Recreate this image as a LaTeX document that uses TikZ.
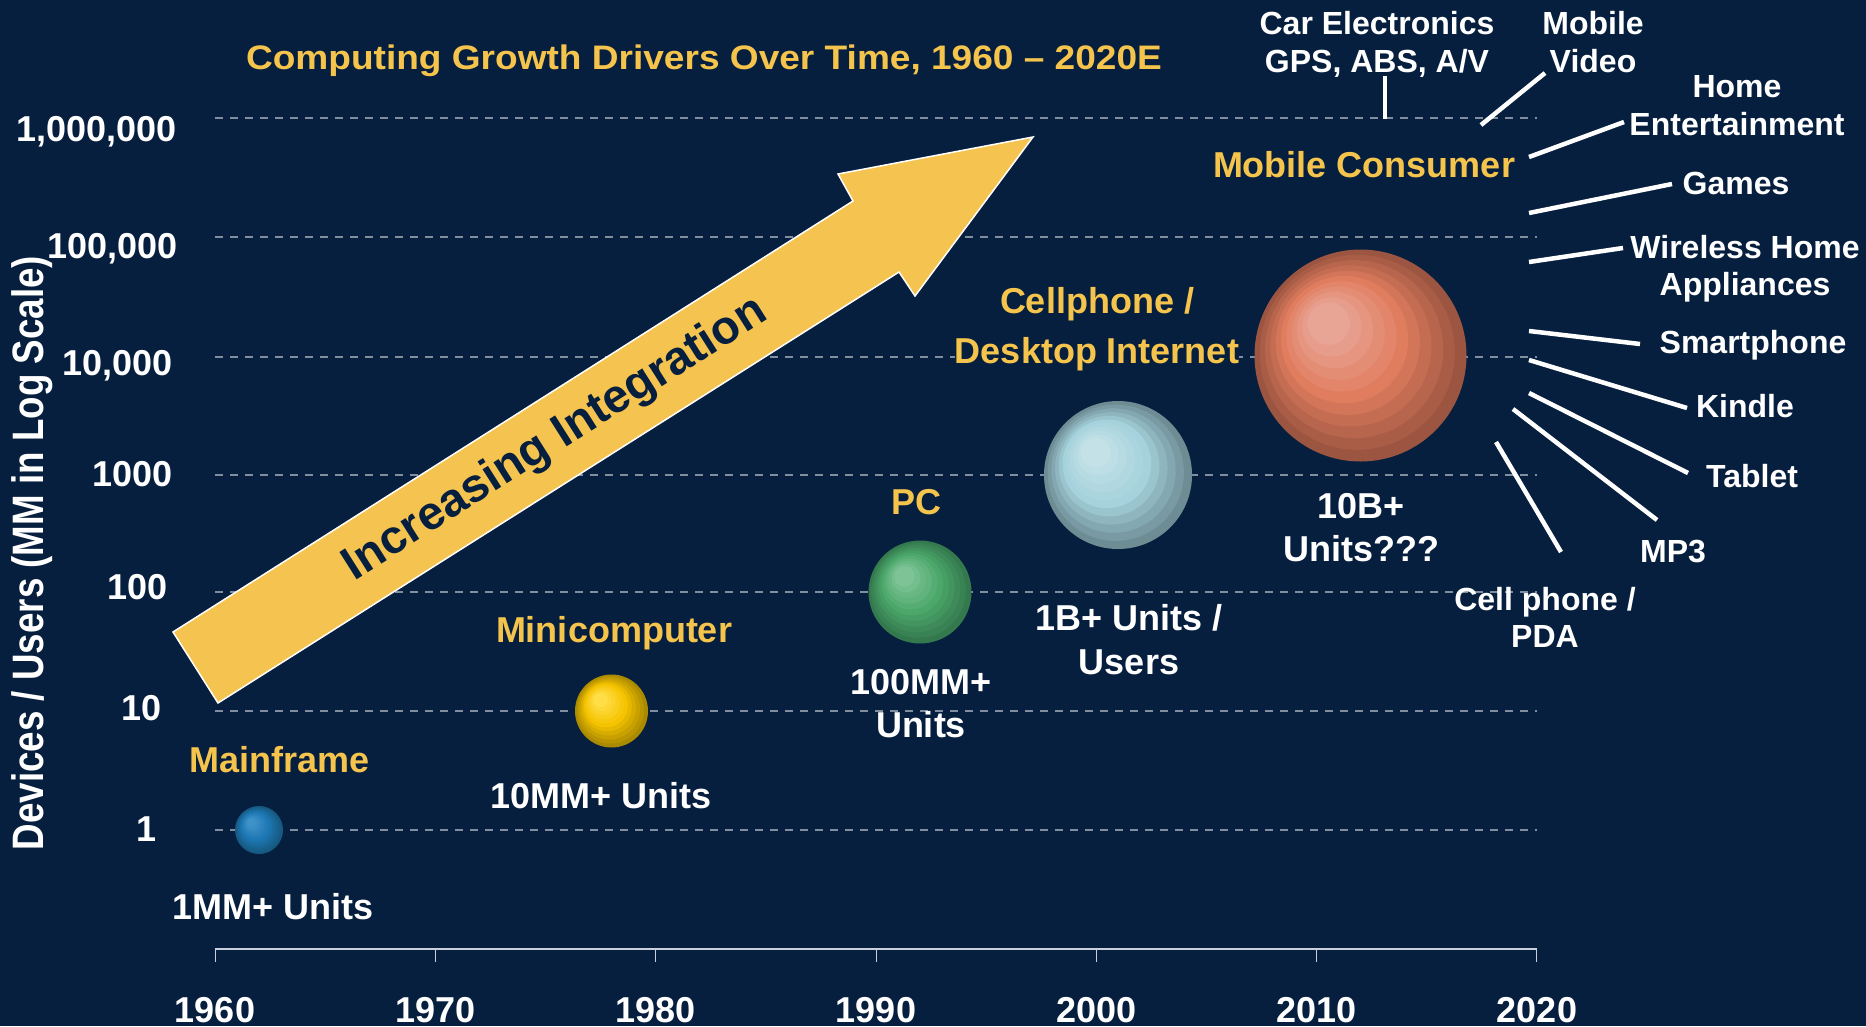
\documentclass[tikz,border=0pt]{standalone}
\usepackage{fontspec}
\setmainfont{Liberation Sans}
\newfontfamily\titlefont[FakeStretch=1.09]{Liberation Sans}
\newfontfamily\narrowfont[FakeStretch=0.835]{Liberation Sans}
\definecolor{navy}{RGB}{7,31,62}
\definecolor{eragold}{RGB}{245,196,76}
\definecolor{arrowgold}{RGB}{245,196,80}
\definecolor{gridgray}{RGB}{128,142,160}
\definecolor{axisgray}{RGB}{200,208,220}
\definecolor{blueedge}{RGB}{22,90,130}
\definecolor{bluemid}{RGB}{30,120,180}
\definecolor{bluehl}{RGB}{62,146,200}
\definecolor{goldedge}{RGB}{170,138,0}
\definecolor{goldmid}{RGB}{245,195,0}
\definecolor{goldhl}{RGB}{255,222,70}
\definecolor{greenedge}{RGB}{52,120,78}
\definecolor{greenmid}{RGB}{76,168,106}
\definecolor{greenhl}{RGB}{125,195,150}
\definecolor{iceedge}{RGB}{110,140,148}
\definecolor{icemid}{RGB}{165,210,220}
\definecolor{icehl}{RGB}{195,225,230}
\definecolor{coraledge}{RGB}{155,85,65}
\definecolor{coralmid}{RGB}{225,125,95}
\definecolor{coralhl}{RGB}{232,165,150}
\tikzstyle{eratag}=[text=eragold, font=\bfseries\fontsize{36}{43}\selectfont, inner sep=0pt, align=center]
\tikzstyle{unittag}=[eratag, text=white]
\tikzstyle{devicetag}=[text=white, font=\bfseries\fontsize{32}{38}\selectfont, inner sep=0pt, align=center]
\tikzstyle{axistag}=[text=white, font=\bfseries\fontsize{36}{40}\selectfont, inner sep=0pt]
\tikzstyle{gridline}=[draw=gridgray, line width=1.3pt, dash pattern=on 8pt off 7pt]
\tikzstyle{spoke}=[draw=white, line width=4.5pt]
% banded ball: name, centre, radius, colour stem
\newcommand\bubble[4]{%
  \coordinate (#1) at (#2);
  \foreach \k in {0,...,10}{
    \pgfmathtruncatemacro\mixA{min(100,20*\k)}
    \pgfmathtruncatemacro\mixB{max(0,20*\k-100)}
    \fill[#4hl!\mixB!#4mid!\mixA!#4edge]
      (#1) ++({-0.03*#3*\k},{-0.03*#3*\k}) circle[radius={#3*(1-0.08*\k)}];
  }}

\begin{document}
\begin{tikzpicture}[x=1pt, y=-1pt]
  \fill[navy] (0,0) rectangle (1866,1026);

  % grid and axes
  \foreach \gy in {118,237,357,475,592,711,830}
    \draw[gridline] (215,\gy) -- (1537,\gy);
  \draw[axisgray, line width=2pt] (215,949) -- (1537,949);
  \foreach \yr [count=\i from 0] in {1960,1970,...,2020} {
    \draw[axisgray, line width=1pt] (215+220.33*\i,949) -- (215+220.33*\i,962);
    \node[axistag, anchor=base] (yr\yr) at (215+220.33*\i,1022) {\yr};
  }
  \foreach \val/\yb/\xr [count=\j] in {{1,000,000}/141/177, {100,000}/258/178,
      {10,000}/375/173, 1000/486/173, 100/599/168, 10/720/162, 1/841/157}
    \node[axistag, anchor=base east] (lev\j) at (\xr,\yb) {\val};
  \node[rotate=90, anchor=base, text=white, inner sep=0pt,
        font=\narrowfont\bfseries\fontsize{44}{48}\selectfont] (ytitle) at (43,553)
        {Devices / Users (MM in Log Scale)};
  \node[anchor=base, text=eragold, inner sep=0pt,
        font=\titlefont\bfseries\fontsize{34}{40}\selectfont] (title) at (704,69)
        {Computing Growth Drivers Over Time, 1960 – 2020E};

  % big arrow
  \filldraw[fill=arrowgold, draw=white, line width=1.5pt, line join=miter]
    (173,632) -- (853,201) -- (838,174) -- (1033,137) -- (915,296) -- (899,272)
    -- (218,703) -- cycle;
  \coordinate (tailmid) at (195.5,667.5);
  \coordinate (headmid) at (876,236.5);
  \path (tailmid) -- node[sloped, pos=0.529, text=navy, inner sep=0pt,
      font=\bfseries\fontsize{47}{50}\selectfont] (integration) {Increasing Integration} (headmid);

  % bubbles
  \bubble{mainframe}{259,830}{24}{blue}
  \bubble{minicomp}{611.5,711}{36.5}{gold}
  \bubble{pc}{920,592}{51.5}{green}
  \bubble{cellphone}{1118,475}{74}{ice}
  \bubble{mobile}{1360.5,355.5}{106}{coral}

  \node[eratag, anchor=base] (mainframe-t) at (280,772) {Mainframe};
  \node[unittag, anchor=base] (mainframe-u) at (273,919) {1MM+ Units};
  \node[eratag, anchor=base] (minicomp-t) at (614,642) {Minicomputer};
  \node[unittag, anchor=base] (minicomp-u) at (601,808) {10MM+ Units};
  \node[eratag, anchor=base] (pc-t) at (916,514) {PC};
  \node[unittag, anchor=north] (pc-u) at (921,669) {100MM+\\Units};
  \node[eratag, anchor=north, fill=navy, font=\bfseries\fontsize{36}{50}\selectfont]
    (cellphone-t) at (1097,287) {Cellphone /\\Desktop Internet};
  \node[unittag, anchor=north, font=\bfseries\fontsize{36}{44}\selectfont]
    (cellphone-u) at (1129,604) {1B+ Units /\\Users};
  \node[unittag, anchor=north] (mobile-u) at (1361,493) {10B+\\Units???};
  \node[eratag, anchor=base] (mobile-t) at (1364,177) {Mobile Consumer};

  % what drives the mobile consumer
  \node[devicetag, anchor=north] (car) at (1377,11) {Car Electronics\\GPS, ABS, A/V};
  \node[devicetag, anchor=north] (video) at (1593,11) {Mobile\\Video};
  \node[devicetag, anchor=north] (home) at (1737,75) {Home\\Entertainment};
  \node[devicetag, anchor=base] (games) at (1736,194) {Games};
  \node[devicetag, anchor=north, font=\bfseries\fontsize{32}{37}\selectfont]
    (appliances) at (1745,235) {Wireless Home\\Appliances};
  \node[devicetag, anchor=base] (smartphone) at (1753,353) {Smartphone};
  \node[devicetag, anchor=base] (kindle) at (1745,417) {Kindle};
  \node[devicetag, anchor=base] (tablet) at (1752,487) {Tablet};
  \node[devicetag, anchor=base] (mp3) at (1673,562) {MP3};
  \node[devicetag, anchor=north, font=\bfseries\fontsize{32}{37}\selectfont]
    (pda) at (1545,587) {Cell phone /\\PDA};

  \foreach \n/\xa/\ya/\xb/\yb in {car/1385/119/1385/76, video/1481/125/1545/73,
      home/1529/157/1624/122, games/1529/213/1672/184, appliances/1529/262/1623/248,
      smartphone/1529/331/1640/344, kindle/1529/360/1687/408, tablet/1529/393/1688/473,
      mp3/1513/409/1657/520, pda/1496/442/1561/552} {
    \coordinate (\n-hub) at (\xa,\ya);
    \coordinate (\n-tip) at (\xb,\yb);
    \draw[spoke] (\n-hub) -- (\n-tip);
  }
\end{tikzpicture}
\end{document}
